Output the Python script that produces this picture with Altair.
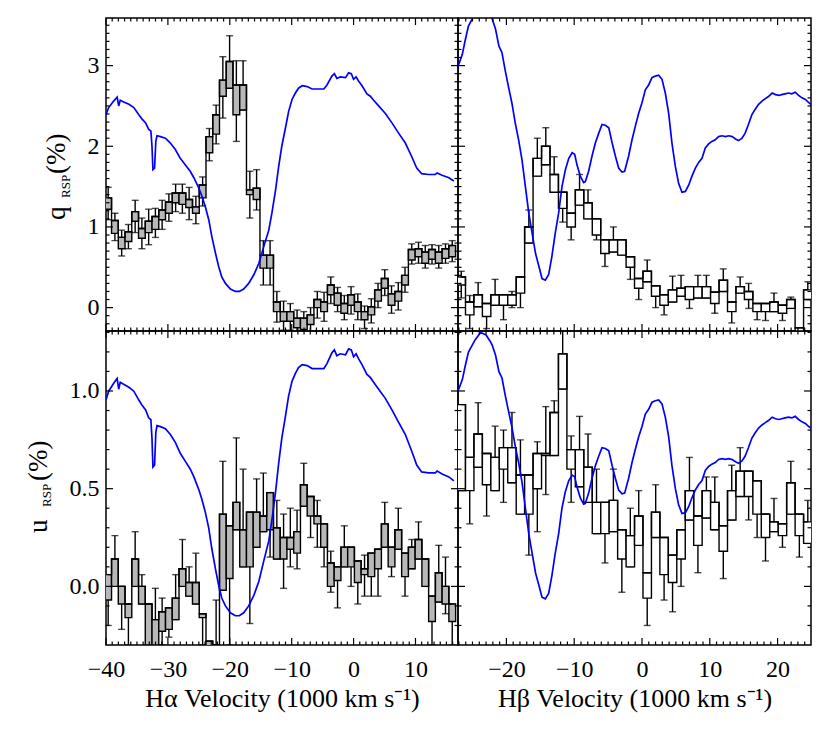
import altair as alt
import pandas as pd
import numpy as np

# ---------------- data ----------------
# H-alpha bins (bin centres, 1000 km/s)
ha_centers = [-39.65, -38.56, -37.47, -36.38, -35.29, -34.20, -33.11, -32.02, -30.93, -29.84,
              -28.75, -27.66, -26.57, -25.48, -24.39, -23.30, -22.21, -21.12, -20.03, -18.94,
              -17.85, -16.76, -15.67, -14.58, -13.49, -12.40, -11.31, -10.22, -9.13, -8.04,
              -6.95, -5.86, -4.77, -3.68, -2.59, -1.50, -0.41, 0.68, 1.77, 2.86,
              3.95, 5.04, 6.13, 7.22, 8.31, 9.40, 10.49, 11.58, 12.67, 13.76,
              14.85, 15.94]
ha_q_hi = [1.36, 1.08, 0.87, 0.94, 1.19, 0.98, 1.07, 1.13, 1.21, 1.31, 1.42, 1.42, 1.34, 1.25, 1.52,
           2.12, 2.39, 2.82, 3.05, 2.76, 2.76, 1.46, 1.48, 0.65, 0.65, 0.07, -0.05, -0.05, -0.13,
           -0.13, -0.09, 0.10, 0.07, 0.28, 0.18, 0.05, 0.16, 0.07, -0.05, 0.01, 0.22, 0.36, 0.17,
           0.20, 0.40, 0.72, 0.73, 0.69, 0.72, 0.69, 0.73, 0.77]
ha_q_lo = [1.22, 0.92, 0.73, 0.82, 1.07, 0.86, 0.93, 0.97, 1.09, 1.17, 1.30, 1.28, 1.24, 1.17, 1.36,
           1.92, 2.15, 2.62, 2.72, 2.39, 2.45, 1.40, 1.34, 0.49, 0.49, -0.05, -0.17, -0.17, -0.25,
           -0.27, -0.21, 0.00, -0.05, 0.16, 0.03, -0.07, 0.03, -0.05, -0.15, -0.09, 0.08, 0.24, 0.03,
           0.08, 0.28, 0.59, 0.63, 0.55, 0.60, 0.55, 0.61, 0.63]
ha_q_top = [1.49, 1.17, 0.96, 1.03, 1.33, 1.11, 1.22, 1.23, 1.33, 1.41, 1.53, 1.53, 1.49, 1.38, 1.62,
            2.22, 2.51, 3.11, 3.37, 3.06, 3.06, 1.69, 1.71, 0.83, 0.83, 0.20, 0.08, 0.05, -0.03,
            -0.05, 0.00, 0.20, 0.19, 0.38, 0.25, 0.15, 0.26, 0.17, 0.02, 0.11, 0.30, 0.47, 0.27,
            0.31, 0.50, 0.79, 0.81, 0.77, 0.78, 0.77, 0.79, 0.83]
ha_q_bot = [1.09, 0.83, 0.64, 0.73, 0.93, 0.73, 0.78, 0.87, 0.97, 1.07, 1.19, 1.17, 1.09, 1.04, 1.26,
            1.82, 2.03, 2.35, 2.72, 2.06, 2.45, 1.11, 1.21, 0.28, 0.28, -0.18, -0.28, -0.28, -0.35,
            -0.37, -0.30, -0.13, -0.17, 0.05, -0.05, -0.15, -0.08, -0.15, -0.26, -0.19, 0.00, 0.15, -0.07,
            -0.03, 0.19, 0.54, 0.55, 0.49, 0.54, 0.49, 0.55, 0.57]

ha_u_hi = [0.06, 0.14, 0.00, -0.09, 0.14, 0.00, -0.09, -0.17, -0.13, -0.11, -0.06, 0.09, 0.02, 0.02,
           -0.14, -0.28, -0.30, 0.37, 0.31, 0.43, 0.29, 0.38, 0.38, 0.36, 0.48, 0.30, 0.25, 0.25,
           0.28, 0.52, 0.46, 0.36, 0.32, 0.12, 0.10, 0.20, 0.20, 0.13, 0.09, 0.17, 0.19, 0.32,
           0.20, 0.29, 0.17, 0.20, 0.24, 0.14, -0.05, 0.07, 0.00, -0.09]
ha_u_lo = [-0.07, 0.00, -0.09, -0.16, 0.00, -0.09, -0.30, -0.30, -0.23, -0.22, -0.17, 0.00, -0.05, -0.09,
           -0.16, -0.40, -0.40, -0.02, 0.04, 0.29, 0.10, 0.10, 0.20, 0.28, 0.29, 0.14, 0.14, 0.19,
           0.17, 0.41, 0.36, 0.32, 0.20, 0.00, 0.03, 0.10, 0.10, 0.02, 0.06, 0.05, 0.09, 0.20,
           0.10, 0.19, 0.05, 0.09, 0.14, 0.00, -0.18, -0.08, -0.09, -0.18]
ha_u_top = [0.06, 0.26, 0.00, -0.09, 0.28, 0.06, -0.09, -0.01, -0.06, -0.11, 0.06, 0.24, 0.10, 0.17,
            -0.14, -0.28, -0.07, 0.64, 0.31, 0.76, 0.60, 0.38, 0.55, 0.58, 0.48, 0.44, 0.37, 0.40,
            0.39, 0.63, 0.46, 0.44, 0.32, 0.18, 0.10, 0.31, 0.20, 0.13, 0.16, 0.17, 0.19, 0.43,
            0.20, 0.40, 0.17, 0.24, 0.33, 0.14, -0.05, 0.21, 0.15, -0.09]
ha_u_bot = [-0.20, 0.00, -0.22, -0.30, 0.00, -0.09, -0.35, -0.30, -0.30, -0.26, -0.17, 0.00, -0.05, -0.09,
            -0.30, -0.45, -0.40, -0.02, -0.30, 0.29, 0.10, -0.19, 0.20, 0.28, 0.15, 0.14, -0.01, 0.10,
            0.09, 0.41, 0.25, 0.20, 0.10, -0.03, -0.11, 0.10, 0.00, -0.09, -0.05, -0.05, -0.05, 0.20,
            0.05, 0.19, -0.05, 0.09, 0.14, 0.00, -0.30, -0.08, -0.14, -0.30]

# H-beta bins
hb_centers = [-26.66, -25.41, -24.17, -22.92, -21.67, -20.43, -19.18, -17.93, -16.69, -15.44,
              -14.19, -12.95, -11.70, -10.45, -9.21, -7.96, -6.71, -5.46, -4.22, -2.97,
              -1.72, -0.48, 0.77, 2.02, 3.26, 4.51, 5.76, 7.00, 8.25, 9.50,
              10.74, 11.99, 13.24, 14.48, 15.73, 16.98, 18.22, 19.47, 20.72, 21.96,
              23.21, 24.46]
hb_q_hi = [0.38, 0.07, 0.16, 0.05, 0.16, 0.16, 0.16, 0.38, 1.00, 1.85, 2.00, 1.65, 1.43, 1.17, 1.46,
           1.30, 1.10, 0.84, 0.84, 0.84, 0.63, 0.36, 0.45, 0.27, 0.16, 0.22, 0.24, 0.26, 0.26, 0.26,
           0.19, 0.34, 0.07, 0.26, 0.20, 0.05, 0.05, 0.07, 0.03, 0.10, -0.25, 0.22]
hb_q_lo = [0.28, -0.09, 0.01, -0.11, 0.03, 0.03, 0.03, 0.18, 0.80, 1.63, 1.77, 1.43, 1.23, 1.00, 1.27,
           1.10, 0.90, 0.67, 0.69, 0.65, 0.50, 0.24, 0.32, 0.14, 0.03, 0.07, 0.14, 0.10, 0.12, 0.12,
           0.05, 0.20, -0.05, 0.18, 0.10, -0.05, -0.05, -0.05, -0.07, -0.01, -0.30, 0.10]
hb_q_top = [0.45, 0.15, 0.31, 0.05, 0.35, 0.16, 0.20, 0.38, 1.21, 2.10, 2.23, 1.87, 1.43, 1.17, 1.65,
            1.46, 1.10, 0.84, 1.00, 0.84, 0.63, 0.36, 0.59, 0.27, 0.16, 0.39, 0.40, 0.26, 0.40, 0.40,
            0.19, 0.48, 0.07, 0.38, 0.30, 0.05, 0.05, 0.18, 0.03, 0.13, -0.25, 0.32]
hb_q_bot = [0.12, -0.26, 0.01, -0.26, 0.03, -0.15, 0.00, 0.00, 0.80, 1.63, 1.77, 1.43, 1.06, 0.84, 1.27,
            1.10, 0.84, 0.51, 0.69, 0.65, 0.35, 0.10, 0.32, 0.00, -0.09, 0.07, 0.14, -0.01, 0.12, 0.12,
            -0.07, 0.20, -0.19, 0.18, -0.01, -0.15, -0.16, -0.05, -0.16, -0.01, -0.30, 0.10]

hb_u_hi = [0.93, 0.66, 0.78, 0.68, 0.66, 0.71, 0.71, 0.57, 0.57, 0.68, 0.68, 0.89, 1.19, 0.70, 0.70,
           0.61, 0.43, 0.43, 0.44, 0.29, 0.26, 0.36, 0.07, 0.38, 0.25, 0.16, 0.29, 0.49, 0.36, 0.49,
           0.43, 0.31, 0.49, 0.59, 0.59, 0.54, 0.37, 0.33, 0.32, 0.53, 0.37, 0.33]
hb_u_lo = [0.49, 0.49, 0.61, 0.52, 0.49, 0.60, 0.53, 0.37, 0.37, 0.50, 0.67, 0.67, 1.01, 0.60, 0.51,
           0.43, 0.27, 0.27, 0.28, 0.14, 0.10, 0.21, -0.06, 0.25, 0.06, 0.02, 0.14, 0.34, 0.21, 0.35,
           0.29, 0.18, 0.34, 0.46, 0.46, 0.37, 0.25, 0.28, 0.26, 0.37, 0.26, 0.22]
hb_u_top = [0.93, 0.66, 0.94, 0.68, 0.82, 0.80, 0.89, 0.75, 0.57, 0.74, 0.92, 0.95, 1.37, 0.77, 0.87,
            0.78, 0.60, 0.43, 0.60, 0.29, 0.40, 0.49, 0.07, 0.52, 0.25, 0.16, 0.29, 0.66, 0.36, 0.56,
            0.56, 0.31, 0.62, 0.71, 0.59, 0.54, 0.37, 0.45, 0.32, 0.64, 0.37, 0.44]
hb_u_bot = [0.49, 0.32, 0.61, 0.36, 0.49, 0.43, 0.53, 0.37, 0.16, 0.28, 0.47, 0.67, 1.01, 0.43, 0.51,
            0.43, 0.27, 0.12, 0.28, -0.03, 0.10, 0.21, -0.20, 0.25, -0.07, -0.13, 0.00, 0.34, 0.07, 0.35,
            0.29, 0.04, 0.34, 0.46, 0.34, 0.25, 0.13, 0.28, 0.20, 0.37, 0.15, 0.22]

# scaled flux spectra (as drawn in the q panels)
ha_flux_v = [-40.0, -39.57, -38.76, -38.2, -37.95, -37.7, -37.15, -36.3, -35.5, -34.7, -34.2, -33.6,
             -33.1, -32.75, -32.57, -32.42, -32.15, -31.95, -31.76, -31.2, -30.4, -29.6, -28.8, -28.0,
             -27.2, -26.4, -25.8, -25.0, -24.5, -23.95, -23.4, -22.9, -22.3, -21.8, -21.3, -20.7,
             -19.9, -19.1, -18.46, -17.76, -16.95, -16.1, -15.3, -14.5, -13.7, -13.2, -12.6, -12.1,
             -11.6, -11.0, -10.5, -9.95, -9.4, -8.9, -8.3, -7.5, -6.7, -5.9, -4.8, -4.3, -3.5, -3.1,
             -2.7, -2.15, -1.3, -0.8, -0.37, 0.0, 0.4, 0.8, 1.36, 2.16, 2.7, 3.24, 4.05, 5.1, 6.2,
             7.3, 8.36, 9.4, 10.2, 11.0, 12.1, 13.2, 13.5, 14.3, 15.4, 16.2]
ha_flux = [2.39, 2.48, 2.56, 2.61, 2.50, 2.57, 2.55, 2.52, 2.48, 2.39, 2.34, 2.29,
           2.21, 2.19, 2.00, 1.71, 1.73, 2.06, 2.13, 2.12, 2.10, 2.04, 1.96, 1.85,
           1.77, 1.69, 1.61, 1.48, 1.38, 1.25, 1.09, 0.88, 0.67, 0.51, 0.38, 0.30,
           0.23, 0.20, 0.20, 0.23, 0.30, 0.41, 0.55, 0.76, 0.96, 1.17, 1.46, 1.75,
           2.00, 2.23, 2.43, 2.58, 2.66, 2.72, 2.75, 2.74, 2.71, 2.71, 2.71, 2.76, 2.87, 2.90,
           2.84, 2.86, 2.85, 2.91, 2.90, 2.83, 2.86, 2.81, 2.75, 2.65, 2.62, 2.57, 2.50, 2.41, 2.29,
           2.16, 2.04, 1.87, 1.73, 1.66, 1.65, 1.65, 1.67, 1.64, 1.61, 1.57]
hb_flux_v = [-27.14, -26.5, -26.06, -25.6, -25.1, -24.6, -23.8, -23.0, -22.4, -22.1, -21.6, -21.1,
             -20.65, -20.2, -19.7, -19.2, -18.7, -18.2, -17.7, -17.2, -16.7, -16.2, -15.7, -15.2,
             -14.75, -14.26, -13.77, -13.3, -12.8, -12.3, -11.8, -11.3, -10.8, -10.3, -9.93, -9.59,
             -9.1, -8.6, -8.36, -7.87, -7.37, -6.88, -6.39, -5.9, -5.4, -4.9, -4.4, -3.93, -3.44,
             -2.95, -2.56, -1.97, -1.47, -0.98, -0.49, 0.0, 0.49, 0.98, 1.47, 1.97, 2.46, 2.95,
             3.44, 3.93, 4.42, 4.92, 5.4, 5.9, 6.4, 6.9, 7.37, 7.87, 8.36, 8.85, 9.34, 9.83, 10.3,
             10.8, 11.3, 11.8, 12.3, 12.8, 13.3, 13.8, 14.25, 14.75, 15.2, 15.7, 16.2, 16.7, 17.2,
             17.7, 18.2, 18.7, 19.2, 19.7, 20.2, 20.6, 21.1, 21.6, 22.1, 22.6, 23.1, 23.6, 24.1,
             24.6, 24.93]
hb_flux = [2.99, 3.14, 3.32, 3.49, 3.57, 3.65, 3.74, 3.71, 3.63, 3.58, 3.45, 3.24,
           3.16, 2.95, 2.74, 2.54, 2.29, 2.08, 1.83, 1.50, 1.17, 0.92, 0.67, 0.51,
           0.36, 0.34, 0.41, 0.63, 0.92, 1.17, 1.50, 1.71, 1.85, 1.92, 1.90, 1.77,
           1.63, 1.55, 1.56, 1.69, 1.88, 2.04, 2.16, 2.27, 2.26, 2.23, 2.04, 1.88, 1.73,
           1.68, 1.69, 1.88, 2.08, 2.25, 2.41, 2.54, 2.70, 2.76, 2.85, 2.87, 2.88, 2.83,
           2.66, 2.41, 2.04, 1.75, 1.54, 1.43, 1.44, 1.52, 1.63, 1.73, 1.80, 1.85, 1.98, 2.03, 2.06,
           2.08, 2.12, 2.13, 2.12, 2.13, 2.12, 2.09, 2.07, 2.10, 2.16, 2.27, 2.39, 2.46, 2.52,
           2.56, 2.59, 2.62, 2.66, 2.64, 2.63, 2.64, 2.65, 2.66, 2.65, 2.67, 2.63, 2.60, 2.58,
           2.54, 2.52]

# flux display scaling used in the u panels (u = offset + gain * flux)
ha_u_flux_scale = (-0.251, 0.504)
hb_u_flux_scale = (-0.200, 0.4008)

ha_bin_width = 1.09
hb_bin_width = 1.2468

ha_xticks = [-40, -30, -20, -10, 0, 10]
hb_xticks = [-20, -10, 0, 10, 20]
q_yticks = [0, 1, 2, 3]
u_yticks = [0.0, 0.5, 1.0]

ha_xdom = [-40.0, 16.87]
hb_xdom = [-27.14, 24.93]
q_ydom = [-0.29, 3.59]
u_ydom = [-0.30, 1.307]

FONT = "Liberation Serif"
LW = 1.4


def make_panel(centers, bw, hi, lo, top, bot, fv, ff, xdom, ydom, w, h, fill,
               xmaj, xminor, ymaj, yminor, show_x, show_y, x_title, y_fmt, ylab):
    xaxis = alt.Axis(values=xmaj, format="d", ticks=False, domain=False, grid=False,
                     labelFont=FONT, labelFontSize=24, labelPadding=12, labelColor="black",
                     labelFlush=False, labelOverlap=False,
                     title=x_title, titleFont=FONT, titleFontSize=26, titleFontWeight="normal",
                     titleColor="black", titlePadding=4) if show_x else None
    yaxis = alt.Axis(values=ymaj, format=y_fmt, ticks=False, domain=False, grid=False,
                     labelFont=FONT, labelFontSize=24, labelPadding=7, labelColor="black",
                     labelFlush=False, labelOverlap=False,
                     title=None) if show_y else None

    def X(f):
        return alt.X(f, type="quantitative", scale=alt.Scale(domain=xdom, nice=False, zero=False), axis=xaxis)

    def Y(f):
        return alt.Y(f, type="quantitative", scale=alt.Scale(domain=ydom, nice=False, zero=False), axis=yaxis)

    df = pd.DataFrame({"v": centers, "hi": hi, "lo": lo, "top": top, "bot": bot})
    df["x1"] = df["v"] - bw / 2
    df["x2"] = df["v"] + bw / 2
    fdf = pd.DataFrame({"v": fv, "f": ff})
    base = alt.Chart(df)

    layers = []
    layers.append(base.mark_rule(color="black", strokeWidth=LW, clip=True).encode(
        x=X("v"), y=Y("top"), y2="bot"))
    layers.append(base.mark_tick(orient="horizontal", size=7, thickness=LW, color="black", clip=True).encode(
        x=X("v"), y=Y("top")))
    layers.append(base.mark_tick(orient="horizontal", size=7, thickness=LW, color="black", clip=True).encode(
        x=X("v"), y=Y("bot")))
    layers.append(base.mark_rect(fill=fill, stroke="black", strokeWidth=LW, clip=True).encode(
        x=X("x1"), x2="x2", y=Y("hi"), y2="lo"))
    layers.append(base.mark_line(interpolate="step", color="black", strokeWidth=LW, clip=True).encode(
        x=X("v"), y=Y("hi")))
    layers.append(alt.Chart(fdf).mark_line(color="#0000ff", strokeWidth=1.7, clip=True).encode(
        x=X("v"), y=Y("f")))

    # inward tick marks on all four sides
    for vals, L in ((xmaj, 7), (xminor, 3.5)):
        tdf = pd.DataFrame({"t": vals})
        layers.append(alt.Chart(tdf).mark_rule(color="black", strokeWidth=1.2).encode(
            x=X("t"), y=alt.value(h), y2=alt.value(h - L)))
        layers.append(alt.Chart(tdf).mark_rule(color="black", strokeWidth=1.2).encode(
            x=X("t"), y=alt.value(0), y2=alt.value(L)))
    for vals, L in ((ymaj, 7), (yminor, 3.5)):
        tdf = pd.DataFrame({"t": vals})
        layers.append(alt.Chart(tdf).mark_rule(color="black", strokeWidth=1.2).encode(
            y=Y("t"), x=alt.value(0), x2=alt.value(L)))
        layers.append(alt.Chart(tdf).mark_rule(color="black", strokeWidth=1.2).encode(
            y=Y("t"), x=alt.value(w), x2=alt.value(w - L)))

    if ylab is not None:
        one = pd.DataFrame({"a": [0]})
        for txt, size, xx, yy in ylab:
            layers.append(alt.Chart(one).mark_text(
                text=txt, font=FONT, fontSize=size, angle=270, align="left",
                baseline="alphabetic", color="black").encode(x=alt.value(xx), y=alt.value(yy)))

    return alt.layer(*layers).properties(width=w, height=h)


def minors(lo_v, hi_v, step, majors):
    out = []
    n = int(round((hi_v - lo_v) / step))
    for i in range(n + 1):
        t = round(lo_v + i * step, 3)
        if all(abs(t - m) > 1e-6 for m in majors):
            out.append(t)
    return out


ha_xminor = minors(-40, 16, 1, ha_xticks)
hb_xminor = minors(-27, 24, 1, hb_xticks)
q_yminor = minors(-0.2, 3.5, 0.1, q_yticks)
u_yminor = minors(-0.2, 1.3, 0.1, u_yticks)

ha_u_flux = [ha_u_flux_scale[0] + ha_u_flux_scale[1] * f for f in ha_flux]
hb_u_flux = [hb_u_flux_scale[0] + hb_u_flux_scale[1] * f for f in hb_flux]

WL, WR, HT, HB = 352, 353, 313, 314

tl = make_panel(ha_centers, ha_bin_width, ha_q_hi, ha_q_lo, ha_q_top, ha_q_bot, ha_flux_v, ha_flux,
                ha_xdom, q_ydom, WL, HT, "#b8b8b8", ha_xticks, ha_xminor, q_yticks, q_yminor,
                False, True, None, "d",
                [("q", 27, -41, 202), ("RSP", 13, -36, 180), ("(%)", 27, -41, 156)])
tr = make_panel(hb_centers, hb_bin_width, hb_q_hi, hb_q_lo, hb_q_top, hb_q_bot, hb_flux_v, hb_flux,
                hb_xdom, q_ydom, WR, HT, "white", hb_xticks, hb_xminor, q_yticks, q_yminor,
                False, False, None, "d", None)
bl = make_panel(ha_centers, ha_bin_width, ha_u_hi, ha_u_lo, ha_u_top, ha_u_bot, ha_flux_v, ha_u_flux,
                ha_xdom, u_ydom, WL, HB, "#b8b8b8", ha_xticks, ha_xminor, u_yticks, u_yminor,
                True, True, "H\u03b1 Velocity (1000 km s\u207b\u00b9)", ".1f",
                [("u", 27, -59, 202), ("RSP", 13, -55, 176), ("(%)", 27, -59, 150)])
br = make_panel(hb_centers, hb_bin_width, hb_u_hi, hb_u_lo, hb_u_top, hb_u_bot, hb_flux_v, hb_u_flux,
                hb_xdom, u_ydom, WR, HB, "white", hb_xticks, hb_xminor, u_yticks, u_yminor,
                True, False, "H\u03b2 Velocity (1000 km s\u207b\u00b9)", ".1f", None)

chart = alt.concat(tl, tr, bl, br, columns=2, spacing=0, bounds="flush").properties(
    padding={"left": 16, "top": 8, "right": 5, "bottom": 5}
).configure_view(stroke="black", strokeWidth=1.5)

chart.save("out.html", embed_options={"renderer": "svg", "actions": False})
